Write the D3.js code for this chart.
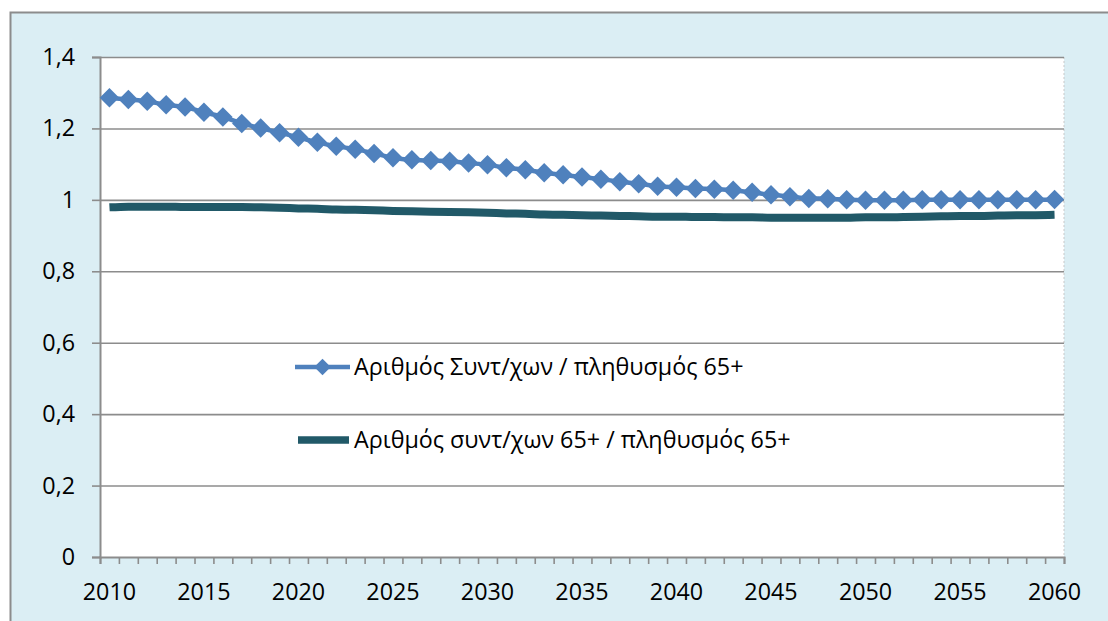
<!DOCTYPE html>
<html>
<head>
<meta charset="utf-8">
<script src="https://cdn.jsdelivr.net/npm/d3@7"></script>
<style>
  body { margin: 0; background: #fff; }
  svg { display: block; font-family: "Open Sans", "Noto Sans", sans-serif; }
</style>
</head>
<body>
<svg id="chart"></svg>
<script>
// Categories (years) and axis labels
const years = d3.range(2010, 2061);
const yearLabels = [2010, 2015, 2020, 2025, 2030, 2035, 2040, 2045, 2050, 2055, 2060];
const yTicks = [0, 0.2, 0.4, 0.6, 0.8, 1, 1.2, 1.4];
const seriesNames = [
    "Αριθμός Συντ/χων / πληθυσμός 65+",
    "Αριθμός συντ/χων 65+ / πληθυσμός 65+"
];

// Pensioners / population 65+
const pensionersPerPop = [
    1.286, 1.281, 1.276, 1.266, 1.260, 1.245, 1.232, 1.214, 1.201, 1.188,
    1.175, 1.161, 1.150, 1.142, 1.130, 1.118, 1.112, 1.110, 1.108, 1.103,
    1.098, 1.090, 1.084, 1.076, 1.070, 1.064, 1.058, 1.051, 1.045, 1.038,
    1.035, 1.032, 1.030, 1.027, 1.021, 1.014, 1.009, 1.004, 1.003, 1.000,
    0.999, 0.999, 0.999, 1.000, 1.000, 1.000, 1.000, 1.000, 1.000, 1.000,
    1.001
];

// Pensioners 65+ / population 65+
const pensioners65PerPop = [
    0.979, 0.981, 0.981, 0.981, 0.980, 0.980, 0.980, 0.980, 0.979, 0.978,
    0.976, 0.975, 0.973, 0.972, 0.971, 0.969, 0.968, 0.967, 0.966, 0.965,
    0.964, 0.962, 0.961, 0.959, 0.958, 0.957, 0.956, 0.955, 0.954, 0.953,
    0.953, 0.952, 0.952, 0.951, 0.951, 0.950, 0.950, 0.950, 0.950, 0.950,
    0.951, 0.951, 0.952, 0.953, 0.954, 0.955, 0.955, 0.956, 0.957, 0.957,
    0.958
];

const W = 1108, H = 621;
const plot = { left: 100, right: 1064, top: 57, bottom: 557 };
const fontSize = 23.3;
const gridColor = "#8c8c8c";
const blue = "#4f81bd";
const teal = "#215968";

const svg = d3.select("#chart")
    .attr("width", W)
    .attr("height", H);

// Outer chart area (light blue panel)
svg.append("rect")
    .attr("x", 10.5)
    .attr("y", 12.5)
    .attr("width", W + 40)
    .attr("height", H + 40)
    .attr("fill", "#dbeef4")
    .attr("stroke", "#8c8c8c")
    .attr("stroke-width", 2);

// Plot area
svg.append("rect")
    .attr("x", plot.left)
    .attr("y", plot.top)
    .attr("width", plot.right - plot.left)
    .attr("height", plot.bottom - plot.top)
    .attr("fill", "#fff");

svg.append("line")
    .attr("x1", plot.right).attr("x2", plot.right)
    .attr("y1", plot.top).attr("y2", plot.bottom)
    .attr("stroke", "#c8c8c8")
    .attr("stroke-dasharray", "2,2");

const x = d3.scaleBand()
    .domain(years)
    .range([plot.left, plot.right]);

const xEdge = d3.scaleLinear()
    .domain([years[0] - 0.5, years[years.length - 1] + 0.5])
    .range([plot.left, plot.right]);

const y = d3.scaleLinear()
    .domain([0, 1.4])
    .range([plot.bottom, plot.top]);

const fmt = d => (d === 0 || d === 1) ? String(d) : d.toFixed(1).replace(".", ",");

// Gridlines
svg.append("g")
    .attr("transform", `translate(${plot.left},0)`)
    .call(d3.axisLeft(y).tickValues(yTicks.filter(d => d > 0)).tickSize(-(plot.right - plot.left)).tickFormat(""))
    .call(g => g.select(".domain").remove())
    .call(g => g.selectAll("line").attr("stroke", gridColor).attr("stroke-width", 1.6));

// Y axis
svg.append("g")
    .attr("transform", `translate(${plot.left},0)`)
    .call(d3.axisLeft(y).tickValues(yTicks).tickSize(8).tickPadding(17).tickFormat(fmt))
    .call(g => g.select(".domain").attr("stroke", gridColor).attr("stroke-width", 2))
    .call(g => g.selectAll("line").attr("stroke", gridColor).attr("stroke-width", 1.6))
    .call(g => g.selectAll("text")
        .attr("fill", "#000")
        .style("font-size", fontSize + "px")
        .style("font-family", "'Open Sans', sans-serif"));

// X axis: ticks between categories
svg.append("g")
    .attr("transform", `translate(0,${plot.bottom})`)
    .call(d3.axisBottom(xEdge)
        .tickValues(d3.range(years[0] - 0.5, years[years.length - 1] + 1, 1))
        .tickSize(7)
        .tickFormat(""))
    .call(g => g.select(".domain").attr("stroke", gridColor).attr("stroke-width", 2))
    .call(g => g.selectAll("line").attr("stroke", gridColor).attr("stroke-width", 1.6));

// X labels every 5 years
svg.append("g")
    .selectAll("text")
    .data(yearLabels)
    .enter()
    .append("text")
    .attr("x", d => x(d) + x.bandwidth() / 2)
    .attr("y", 600)
    .attr("text-anchor", "middle")
    .attr("fill", "#000")
    .style("font-size", fontSize + "px")
    .text(d => d);

const cx = (d, i) => x(years[i]) + x.bandwidth() / 2;

const line = d3.line()
    .x(cx)
    .y(d => y(d))
    .curve(d3.curveMonotoneX);

// Series 1: line with diamond markers
svg.append("path")
    .datum(pensionersPerPop)
    .attr("d", line)
    .attr("fill", "none")
    .attr("stroke", blue)
    .attr("stroke-width", 4.5);

const diamond = d3.symbol().type(d3.symbolSquare).size(190);

svg.append("g")
    .selectAll("path")
    .data(pensionersPerPop)
    .enter()
    .append("path")
    .attr("d", diamond)
    .attr("transform", (d, i) => `translate(${cx(d, i)},${y(d)}) rotate(45)`)
    .attr("fill", blue);

// Series 2: thick smooth line
svg.append("path")
    .datum(pensioners65PerPop)
    .attr("d", line)
    .attr("fill", "none")
    .attr("stroke", teal)
    .attr("stroke-width", 8);

// Legend (inside the plot)
const legendY = [367, 440];
const legend = svg.append("g");

legend.append("line")
    .attr("x1", 295).attr("x2", 350)
    .attr("y1", legendY[0]).attr("y2", legendY[0])
    .attr("stroke", blue)
    .attr("stroke-width", 4.5);

legend.append("path")
    .attr("d", d3.symbol().type(d3.symbolSquare).size(135))
    .attr("transform", `translate(322.5,${legendY[0]}) rotate(45)`)
    .attr("fill", blue);

legend.append("line")
    .attr("x1", 298).attr("x2", 349)
    .attr("y1", legendY[1]).attr("y2", legendY[1])
    .attr("stroke", teal)
    .attr("stroke-width", 7.5);

legend.selectAll("text")
    .data(seriesNames)
    .enter()
    .append("text")
    .attr("x", 354)
    .attr("y", (d, i) => legendY[i])
    .attr("dy", "0.35em")
    .attr("fill", "#000")
    .style("font-size", fontSize + "px")
    .text(d => d);
</script>
</body>
</html>
